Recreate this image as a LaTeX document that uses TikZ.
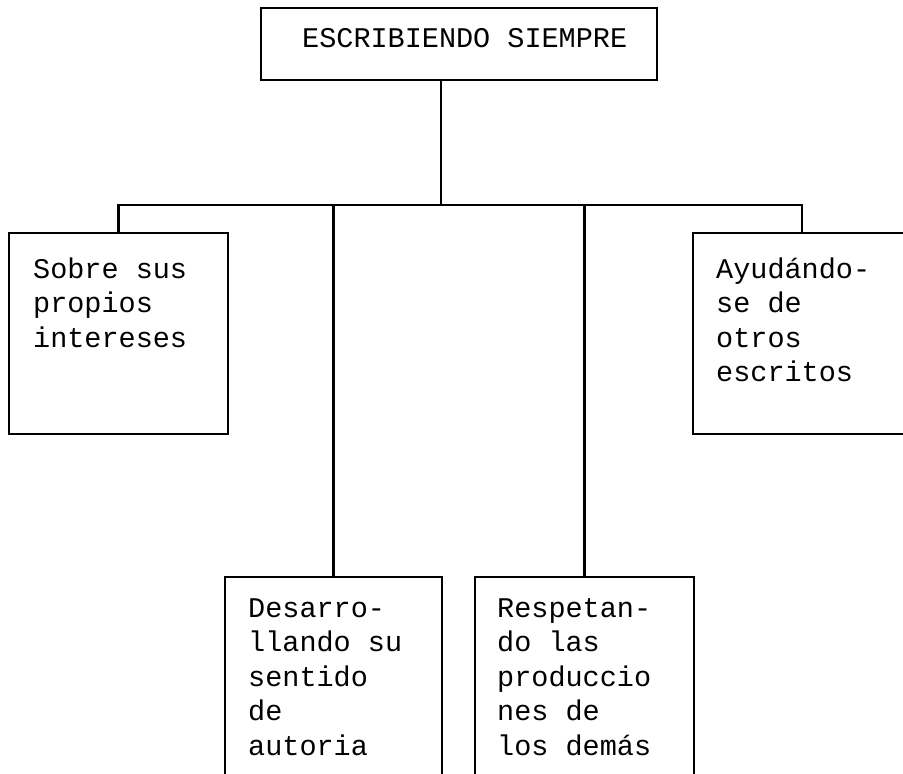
\documentclass[tikz,border=0pt]{standalone}
\usepackage{fontspec}
\setmonofont{Liberation Mono}

\begin{document}
\begin{tikzpicture}[x=1pt, y=-1pt,
    caja/.style={draw, line width=2.3pt, anchor=north west, inner sep=0pt, outer sep=0pt},
    texto/.style={anchor=base west, align=left, inner sep=0pt,
      font=\ttfamily\fontsize{28.5}{34.5}\selectfont},
    linea/.style={line width=2.3pt}]
  \useasboundingbox (0,0) rectangle (903,774);
  \clip (0,0) rectangle (903,774);

  % Draw the boxes
  \node[caja, minimum width=396pt, minimum height=72pt] (titulo) at (261,8) {};
  \node[caja, minimum width=219pt, minimum height=201pt] (izq) at (9,233) {};
  \node[caja, minimum width=218pt, minimum height=201pt] (der) at (693,233) {};
  \node[caja, minimum width=217pt, minimum height=220pt] (desa) at (225,577) {};
  \node[caja, minimum width=219pt, minimum height=220pt] (resp) at (475,577) {};

  % Texts of the boxes (placed at the baseline of their last line)
  \node[texto] (tTitulo) at (302,47) {ESCRIBIENDO SIEMPRE};
  \node[texto] (tIzq) at (33,347) {Sobre sus\\propios\\intereses};
  \node[texto] (tDer) at (716,381.5) {Ayudándo-\\se de\\otros\\escritos};
  \node[texto] (tDesa) at (248,755) {Desarro-\\llando su\\sentido\\de\\autoria};
  \node[texto] (tResp) at (497,755) {Respetan-\\do las\\produccio\\nes de\\los demás};

  % Draw the connectors
  \coordinate (barra) at (441,205);
  \draw[linea] (barra |- titulo.south) -- (barra);
  \draw[linea] (izq.north) -- (izq.north |- barra) -- (der.north |- barra) -- (der.north);
  \foreach \n in {desa, resp}
    \draw[linea] (\n.north) -- (\n.north |- barra);
\end{tikzpicture}
\end{document}
